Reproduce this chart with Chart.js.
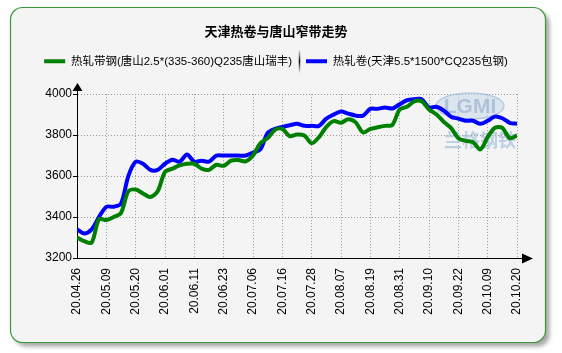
<!DOCTYPE html>
<html>
<head>
<meta charset="utf-8">
<script src="https://cdn.jsdelivr.net/npm/chart.js@4"></script>
<style>
  html, body { margin: 0; padding: 0; background: #fff; }
  canvas { display: block; }
</style>
</head>
<body>
<canvas id="myChart" width="562" height="353"></canvas>
<script>
// 横軸の目盛ラベル
const tickLabels = ['20.04.26', '20.05.09', '20.05.20', '20.06.01', '20.06.11', '20.06.23', '20.07.06', '20.07.16',
  '20.07.28', '20.08.07', '20.08.19', '20.08.31', '20.09.10', '20.09.22', '20.10.09', '20.10.20'];
const ptsPerTick = 4; // 目盛の間に4点

const seriesNames = ['热轧带钢(唐山2.5*(335-360)Q235唐山瑞丰)', '热轧卷(天津5.5*1500*CQ235包钢)'];

// 唐山窄带
const greenVals = [3300, 3282, 3275, 3390, 3385, 3400, 3420, 3526, 3534, 3515,
  3498, 3526, 3620, 3636, 3652, 3660, 3660, 3636, 3630, 3655,
  3650, 3675, 3678, 3672, 3700, 3760, 3785, 3826, 3830, 3795,
  3803, 3798, 3760, 3790, 3840, 3868, 3860, 3877, 3862, 3813,
  3830, 3838, 3845, 3850, 3925, 3938, 3965, 3965, 3925, 3902,
  3865, 3835, 3785, 3772, 3765, 3730, 3790, 3836, 3835, 3785, 3798];

// 天津热卷
const blueVals = [3340, 3320, 3340, 3400, 3450, 3450, 3465, 3600, 3670, 3660,
  3630, 3630, 3660, 3680, 3670, 3705, 3670, 3675, 3670, 3700,
  3700, 3700, 3700, 3700, 3715, 3730, 3810, 3830, 3840, 3848,
  3855, 3845, 3845, 3845, 3880, 3900, 3915, 3905, 3895, 3895,
  3928, 3928, 3935, 3930, 3950, 3970, 3975, 3975, 3935, 3938,
  3920, 3890, 3880, 3870, 3870, 3855, 3870, 3890, 3882, 3860, 3855];

const yMin = 3200;
const yMax = 4000;
const yStep = 200;

function toPoints(vals) {
  return vals.map((v, i) => ({ x: i / ptsPerTick, y: v }));
}

// 背景の枠
const framePlugin = {
  id: 'frame',
  beforeDraw(chart) {
    const ctx = chart.ctx;
    ctx.save();
    ctx.fillStyle = '#fff';
    ctx.fillRect(0, 0, chart.width, chart.height);
    const x = 10.5, y = 7.5, w = 535, h = 335, r = 12;
    ctx.beginPath();
    ctx.roundRect(x, y, w, h, r);
    ctx.shadowColor = 'rgba(0,0,0,0.35)';
    ctx.shadowBlur = 4;
    ctx.shadowOffsetX = 4;
    ctx.shadowOffsetY = 4;
    ctx.fillStyle = '#f4f4f4';
    ctx.fill();
    ctx.shadowColor = 'transparent';
    ctx.strokeStyle = '#3a9a3a';
    ctx.lineWidth = 1.2;
    ctx.stroke();
    ctx.restore();
  },
  beforeDatasetsDraw(chart) {
    // 透かしロゴ
    const ctx = chart.ctx;
    ctx.save();
    ctx.globalAlpha = 0.55;
    ctx.beginPath();
    ctx.ellipse(470, 106, 34, 13, 0, 0, Math.PI * 2);
    ctx.fillStyle = '#c9d8ea';
    ctx.fill();
    ctx.strokeStyle = '#8fb0d6';
    ctx.lineWidth = 1.5;
    ctx.stroke();
    ctx.font = 'bold 21px "Liberation Sans"';
    ctx.textAlign = 'center';
    ctx.textBaseline = 'middle';
    ctx.fillStyle = '#8aa6c8';
    ctx.fillText('LGMI', 470, 107);
    ctx.font = 'bold 18px "Noto Sans CJK SC"';
    ctx.fillStyle = '#8fb0d6';
    ctx.fillText('兰格钢铁', 480, 140);
    ctx.restore();
  },
  afterDraw(chart) {
    const ctx = chart.ctx;
    const a = chart.chartArea;
    ctx.save();
    ctx.strokeStyle = '#000';
    ctx.fillStyle = '#000';
    ctx.lineWidth = 1;
    // 縦軸の矢印
    ctx.beginPath();
    ctx.moveTo(a.left + 0.5, a.top);
    ctx.lineTo(a.left + 0.5, a.top - 4);
    ctx.stroke();
    ctx.beginPath();
    ctx.moveTo(a.left + 0.5, a.top - 11);
    ctx.lineTo(a.left - 4.5, a.top - 3);
    ctx.lineTo(a.left + 5.5, a.top - 3);
    ctx.closePath();
    ctx.fill();
    // 横軸の矢印
    ctx.beginPath();
    ctx.moveTo(a.right, a.bottom + 0.5);
    ctx.lineTo(a.right + 6, a.bottom + 0.5);
    ctx.stroke();
    ctx.beginPath();
    ctx.moveTo(a.right + 16, a.bottom + 0.5);
    ctx.lineTo(a.right + 5, a.bottom - 4.5);
    ctx.lineTo(a.right + 5, a.bottom + 5.5);
    ctx.closePath();
    ctx.fill();
    // 凡例の区切り線
    const boxes = chart.legend.legendHitBoxes;
    if (boxes && boxes.length > 1) {
      const b0 = boxes[0], b1 = boxes[1];
      const sx = Math.round((b0.left + b0.width + b1.left) / 2) + 0.5;
      const cy = b0.top + b0.height / 2;
      const g = ctx.createLinearGradient(0, cy - 12, 0, cy + 12);
      g.addColorStop(0, 'rgba(0,0,0,0)');
      g.addColorStop(0.5, 'rgba(0,0,0,1)');
      g.addColorStop(1, 'rgba(0,0,0,0)');
      ctx.strokeStyle = g;
      ctx.lineWidth = 1.5;
      ctx.beginPath();
      ctx.moveTo(sx, cy - 12);
      ctx.lineTo(sx, cy + 12);
      ctx.stroke();
    }
    ctx.restore();
  }
};

// 凡例の下に余白を足す
const legendGapPlugin = {
  id: 'legendGap',
  beforeInit(chart) {
    const originalFit = chart.legend.fit;
    chart.legend.fit = function fit() {
      originalFit.bind(chart.legend)();
      this.height += 17;
    };
  }
};

const ctx = document.getElementById('myChart').getContext('2d');
new Chart(ctx, {
  type: 'line',
  data: {
    datasets: [{
      label: seriesNames[0],
      data: toPoints(greenVals),
      borderColor: '#008000',
      backgroundColor: '#008000',
      borderWidth: 4,
      pointRadius: 0,
      tension: 0.3,
      pointStyle: 'line'
    }, {
      label: seriesNames[1],
      data: toPoints(blueVals),
      borderColor: '#0000ff',
      backgroundColor: '#0000ff',
      borderWidth: 4,
      pointRadius: 0,
      tension: 0.3,
      pointStyle: 'line'
    }]
  },
  options: {
    responsive: false,
    animation: false,
    devicePixelRatio: 1,
    layout: { padding: { left: 10, right: 20, top: 14, bottom: 27 } },
    plugins: {
      title: {
        display: true,
        text: '天津热卷与唐山窄带走势',
        color: '#000',
        font: { family: '"Noto Sans CJK SC"', size: 13, weight: 'bold' },
        padding: { top: 9, bottom: 3 }
      },
      legend: {
        display: true,
        labels: {
          color: '#000',
          font: { family: '"Liberation Sans", "Noto Sans CJK SC"', size: 11.5 },
          usePointStyle: true,
          pointStyleWidth: 21,
          padding: 14
        }
      },
      tooltip: { enabled: false }
    },
    scales: {
      x: {
        type: 'linear',
        min: 0,
        max: tickLabels.length - 1,
        afterFit(scale) { scale.height = 68; },
        ticks: {
          stepSize: 1,
          autoSkip: false,
          maxRotation: 90,
          minRotation: 90,
          padding: 10,
          color: '#000',
          font: { family: '"Liberation Sans"', size: 12 },
          callback: v => tickLabels[v]
        },
        grid: {
          color: '#999',
          drawTicks: false
        },
        border: { display: true, color: '#000', width: 1, dash: [1, 2] }
      },
      y: {
        min: yMin,
        max: yMax,
        afterFit(scale) { scale.width = 67; },
        ticks: {
          stepSize: yStep,
          padding: 1,
          color: '#000',
          font: { family: '"Liberation Sans"', size: 12 },
          callback: v => String(v)
        },
        grid: {
          color: '#999',
          tickColor: '#000',
          tickLength: 4,
          tickBorderDash: []
        },
        border: { display: true, color: '#000', width: 1, dash: [1, 2] }
      },
      // 右側の余白用（表示しない）
      yRight: {
        position: 'right',
        min: yMin,
        max: yMax,
        afterFit(scale) { scale.width = 25; },
        ticks: { display: false },
        grid: { display: false },
        border: { display: false }
      }
    }
  },
  plugins: [framePlugin, legendGapPlugin]
});
</script>
</body>
</html>
